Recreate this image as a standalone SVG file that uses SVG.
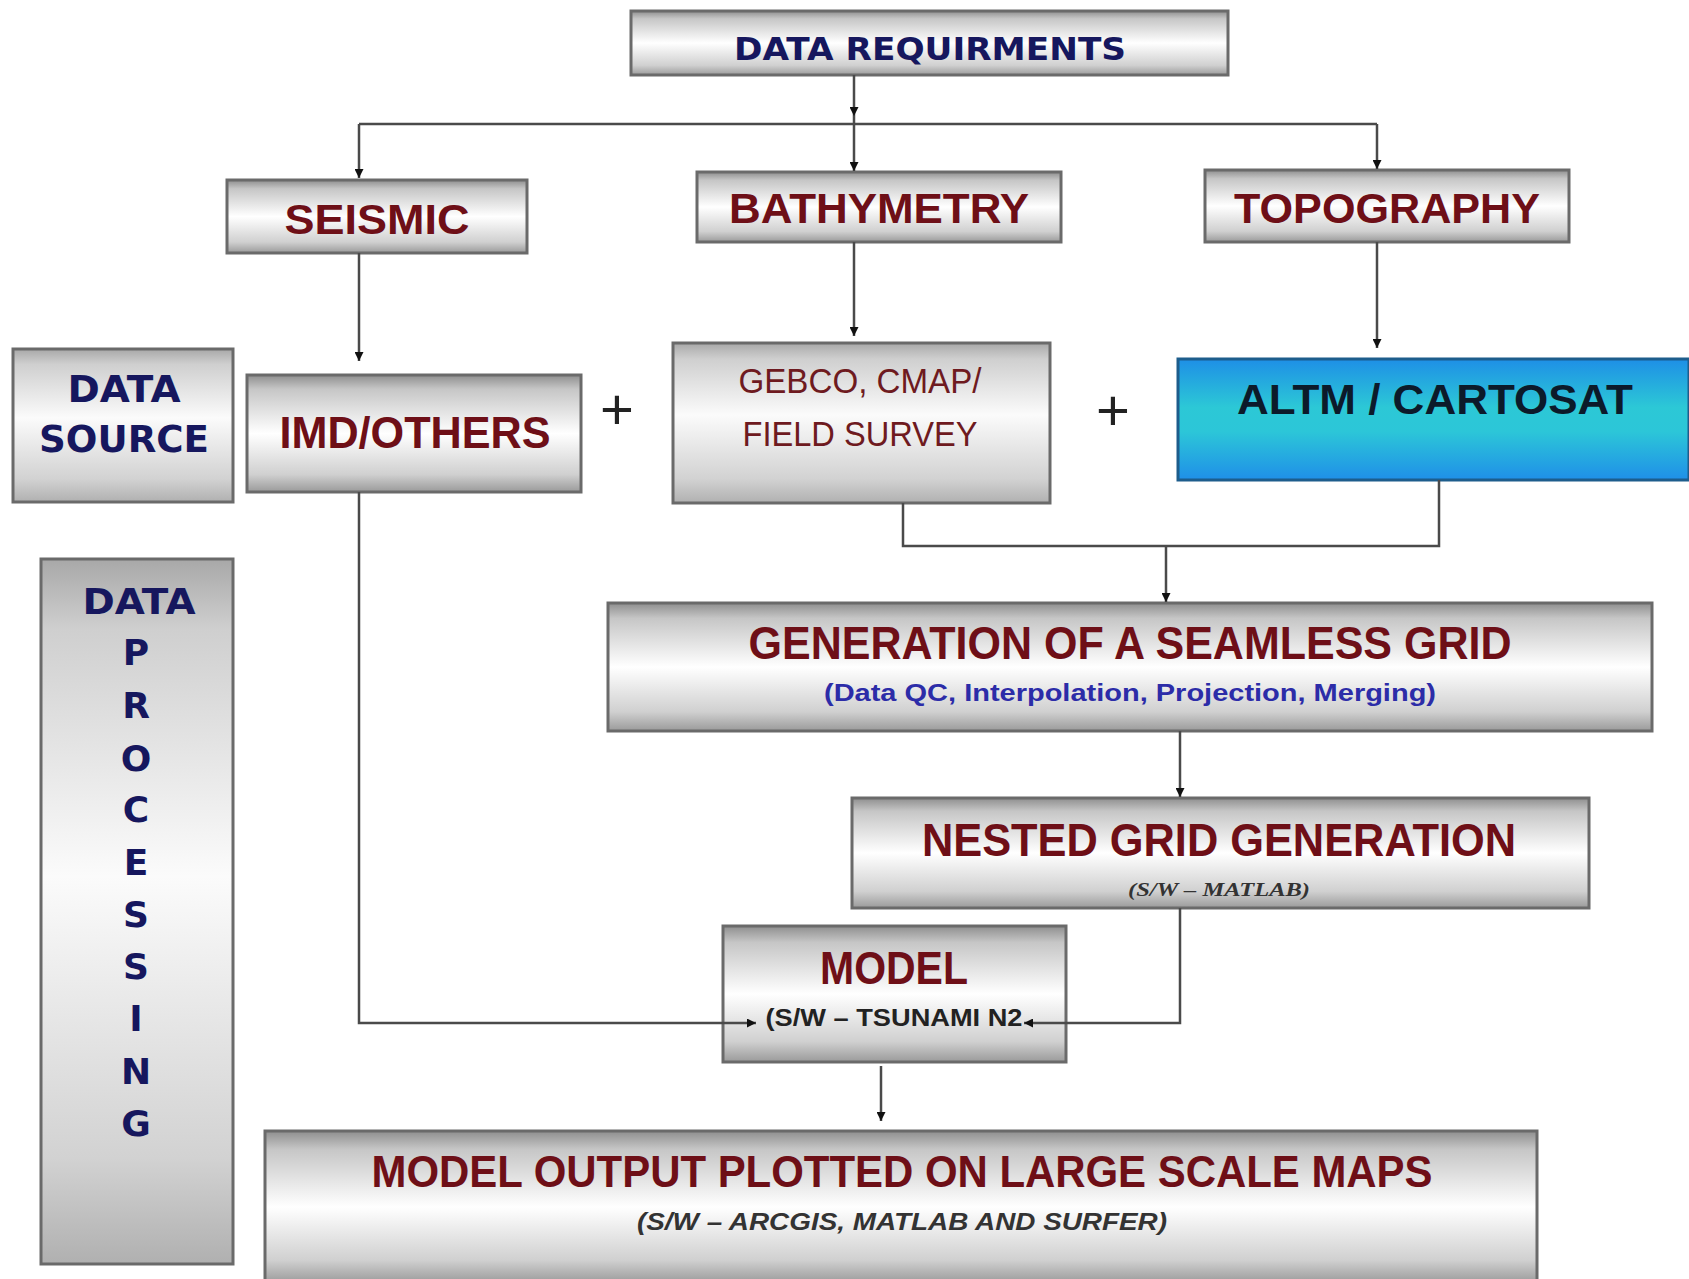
<svg xmlns="http://www.w3.org/2000/svg" width="1689" height="1279" viewBox="0 0 1689 1279">
<defs>
<linearGradient id="silver" x1="0" y1="0" x2="0" y2="1">
<stop offset="0" stop-color="#8e8e8e"/>
<stop offset="0.12" stop-color="#c6c6c6"/>
<stop offset="0.5" stop-color="#ffffff"/>
<stop offset="0.85" stop-color="#d0d0d0"/>
<stop offset="1" stop-color="#9a9a9a"/>
</linearGradient>
<linearGradient id="silverTall" x1="0" y1="0" x2="0" y2="1">
<stop offset="0" stop-color="#a8a8a8"/>
<stop offset="0.1" stop-color="#cfcfcf"/>
<stop offset="0.45" stop-color="#fbfbfb"/>
<stop offset="0.85" stop-color="#d2d2d2"/>
<stop offset="1" stop-color="#b0b0b0"/>
</linearGradient>
<linearGradient id="blue" x1="0" y1="0" x2="0" y2="1">
<stop offset="0" stop-color="#1e8fe6"/>
<stop offset="0.4" stop-color="#2cc8d6"/>
<stop offset="0.6" stop-color="#2cc6d8"/>
<stop offset="1" stop-color="#1f8fe8"/>
</linearGradient>
<marker id="arr" viewBox="0 0 10 10" refX="10" refY="5" markerWidth="10" markerHeight="9" markerUnits="userSpaceOnUse" orient="auto">
<path d="M0,0 L10,5 L0,10 z" fill="#111"/>
</marker>
</defs>
<style>
.box{fill:url(#silver);stroke:#6a6a6a;stroke-width:3}
.tall{fill:url(#silverTall);stroke:#6a6a6a;stroke-width:3}
.red{font-family:"Liberation Sans",Arial,sans-serif;font-weight:bold;fill:#6e0f17;text-anchor:middle}
.navy{font-family:"DejaVu Sans",Verdana,sans-serif;font-weight:bold;fill:#16175e;text-anchor:middle}
.sub{font-family:"Liberation Sans",Arial,sans-serif;font-weight:bold;text-anchor:middle}
.conn{fill:none;stroke:#4a4a4a;stroke-width:2.5}
.plus{font-family:"Liberation Sans",Arial,sans-serif;font-size:58px;fill:#222;text-anchor:middle}
</style>
<rect width="1689" height="1279" fill="#ffffff"/>

<g id="data-requirments">
<rect class="box" x="631" y="11" width="597" height="64"/>
<text class="navy" x="930" y="60" font-size="32" textLength="392" lengthAdjust="spacingAndGlyphs">DATA REQUIRMENTS</text>
</g>

<g id="seismic">
<rect class="box" x="227" y="180" width="300" height="73"/>
<text class="red" x="377" y="234" font-size="43" textLength="185" lengthAdjust="spacingAndGlyphs">SEISMIC</text>
</g>

<g id="bathymetry">
<rect class="box" x="697" y="172" width="364" height="70"/>
<text class="red" x="879" y="223" font-size="43" textLength="300" lengthAdjust="spacingAndGlyphs">BATHYMETRY</text>
</g>

<g id="topography">
<rect class="box" x="1205" y="170" width="364" height="72"/>
<text class="red" x="1387" y="223" font-size="43" textLength="306" lengthAdjust="spacingAndGlyphs">TOPOGRAPHY</text>
</g>

<g id="data-source">
<rect class="tall" x="13" y="349" width="220" height="153"/>
<text class="navy" x="124" y="402" font-size="37" textLength="113" lengthAdjust="spacingAndGlyphs">DATA</text>
<text class="navy" x="124" y="452" font-size="37" textLength="170" lengthAdjust="spacingAndGlyphs">SOURCE</text>
</g>

<g id="imd-others">
<rect class="box" x="247" y="375" width="334" height="117"/>
<text class="red" x="415" y="448" font-size="44" textLength="271" lengthAdjust="spacingAndGlyphs">IMD/OTHERS</text>
</g>

<text class="plus" x="617" y="429">+</text>
<text class="plus" x="1113" y="430">+</text>

<g id="gebco">
<rect class="tall" x="673" y="343" width="377" height="160"/>
<text x="860" y="393" font-family="'Liberation Sans Narrow','Liberation Sans',Arial,sans-serif" font-size="35" fill="#6e1a20" text-anchor="middle" textLength="243" lengthAdjust="spacingAndGlyphs">GEBCO, CMAP/</text>
<text x="860" y="446" font-family="'Liberation Sans Narrow','Liberation Sans',Arial,sans-serif" font-size="35" fill="#6e1a20" text-anchor="middle" textLength="235" lengthAdjust="spacingAndGlyphs">FIELD SURVEY</text>
</g>

<g id="altm-cartosat">
<rect x="1178" y="359" width="511" height="121" fill="url(#blue)" stroke="#1d5d8c" stroke-width="3"/>
<text x="1435" y="414" font-family="'Liberation Sans',Arial,sans-serif" font-weight="bold" font-size="42" fill="#0c1a2a" text-anchor="middle" textLength="396" lengthAdjust="spacingAndGlyphs">ALTM / CARTOSAT</text>
</g>

<g id="seamless-grid">
<rect class="box" x="608" y="603" width="1044" height="128"/>
<text class="red" x="1130" y="659" font-size="46" textLength="763" lengthAdjust="spacingAndGlyphs">GENERATION OF A SEAMLESS GRID</text>
<text class="sub" x="1130" y="701" font-size="23" fill="#2c2ca8" textLength="612" lengthAdjust="spacingAndGlyphs">(Data QC, Interpolation, Projection, Merging)</text>
</g>

<g id="nested-grid">
<rect class="box" x="852" y="798" width="737" height="110"/>
<text class="red" x="1219" y="856" font-size="46" textLength="594" lengthAdjust="spacingAndGlyphs">NESTED GRID GENERATION</text>
<text x="1219" y="896" font-family="'Liberation Serif','Times New Roman',serif" font-style="italic" font-weight="bold" font-size="19" fill="#333" text-anchor="middle" textLength="182" lengthAdjust="spacingAndGlyphs">(S/W – MATLAB)</text>
</g>

<g id="model">
<rect class="box" x="723" y="926" width="343" height="136"/>
<text class="red" x="894" y="984" font-size="46" textLength="148" lengthAdjust="spacingAndGlyphs">MODEL</text>
<text class="sub" x="894" y="1026" font-size="23" fill="#222" textLength="257" lengthAdjust="spacingAndGlyphs">(S/W – TSUNAMI N2</text>
</g>

<g id="model-output">
<rect class="box" x="265" y="1131" width="1272" height="152"/>
<text class="red" x="902" y="1187" font-size="45" textLength="1061" lengthAdjust="spacingAndGlyphs">MODEL OUTPUT PLOTTED ON LARGE SCALE MAPS</text>
<text class="sub" x="902" y="1230" font-size="23" font-style="italic" fill="#333" textLength="530" lengthAdjust="spacingAndGlyphs">(S/W – ARCGIS, MATLAB AND SURFER)</text>
</g>

<g id="data-processing">
<rect class="tall" x="41" y="559" width="192" height="705"/>
<text class="navy" x="139" y="614" font-size="36" textLength="113" lengthAdjust="spacingAndGlyphs">DATA</text>
<text class="navy" x="136" y="665" font-size="36">P</text>
<text class="navy" x="136" y="718" font-size="36">R</text>
<text class="navy" x="136" y="771" font-size="36">O</text>
<text class="navy" x="136" y="822" font-size="36">C</text>
<text class="navy" x="136" y="875" font-size="36">E</text>
<text class="navy" x="136" y="927" font-size="36">S</text>
<text class="navy" x="136" y="979" font-size="36">S</text>
<text class="navy" x="136" y="1031" font-size="36">I</text>
<text class="navy" x="136" y="1084" font-size="36">N</text>
<text class="navy" x="136" y="1136" font-size="36">G</text>
</g>

<g id="connectors">
<path class="conn" d="M854,75 V116" marker-end="url(#arr)"/>
<path class="conn" d="M854,116 V124"/>
<path class="conn" d="M359,124 H1377"/>
<path class="conn" d="M359,124 V178" marker-end="url(#arr)"/>
<path class="conn" d="M854,124 V171" marker-end="url(#arr)"/>
<path class="conn" d="M1377,124 V169" marker-end="url(#arr)"/>
<path class="conn" d="M359,253 V361" marker-end="url(#arr)"/>
<path class="conn" d="M854,242 V336" marker-end="url(#arr)"/>
<path class="conn" d="M1377,242 V348" marker-end="url(#arr)"/>
<path class="conn" d="M903,503 V546 H1439 V480"/>
<path class="conn" d="M1166,546 V602" marker-end="url(#arr)"/>
<path class="conn" d="M1180,731 V797" marker-end="url(#arr)"/>
<path class="conn" d="M1180,908 V1023 H1024" marker-end="url(#arr)"/>
<path class="conn" d="M359,492 V1023 H756" marker-end="url(#arr)"/>
<path class="conn" d="M881,1066 V1121" marker-end="url(#arr)"/>
</g>
</svg>
